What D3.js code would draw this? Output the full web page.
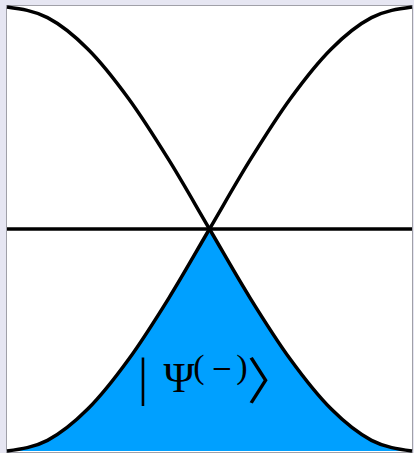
<!DOCTYPE html>
<html>
<head>
<meta charset="utf-8">
<script src="https://cdn.jsdelivr.net/npm/d3@7"></script>
<style>
  html, body { margin: 0; padding: 0; background: #e6e6f2; }
  svg { display: block; }
</style>
</head>
<body>
<svg id="chart" width="414" height="453"></svg>
<script>
// Sample positions along the horizontal axis (fraction of the span)
const positions = [0, 0.1, 0.2, 0.3, 0.4, 0.5, 0.6, 0.7, 0.8, 0.9, 1];
// Falling curve (starts at the top, ends at the bottom)
const fallingCurve = [1, 0.976, 0.905, 0.794, 0.655, 0.5, 0.345, 0.206, 0.095, 0.024, 0];
// Rising curve (starts at the bottom, ends at the top)
const risingCurve = [0, 0.024, 0.095, 0.206, 0.345, 0.5, 0.655, 0.794, 0.905, 0.976, 1];
// Level of the horizontal reference line
const midLevel = [0.5];

const svg = d3.select("#chart");
const plotLeft = 7, plotRight = 412, plotTop = 7, plotBottom = 451;

const x = d3.scaleLinear().domain([0, 1]).range([plotLeft, plotRight]);
const y = d3.scaleLinear().domain([0, 1]).range([plotBottom, plotTop]);

// plot area
svg.append("rect")
  .attr("x", plotLeft - 0.5).attr("y", plotTop - 1.5)
  .attr("width", plotRight - plotLeft + 1).attr("height", plotBottom - plotTop + 3)
  .attr("fill", "#ffffff").attr("stroke", "#a0a0a8").attr("stroke-width", 1);

const pts = a => positions.map((p, i) => [p, a[i]]);

const line = d3.line().x(d => x(d[0])).y(d => y(d[1])).curve(d3.curveMonotoneX);
const area = d3.area().x(d => x(d[0])).y0(y(0)).y1(d => y(d[1])).curve(d3.curveMonotoneX);

// region under both curves: area under one clipped by area under the other
const defs = svg.append("defs");
defs.append("clipPath").attr("id", "under-rising")
  .append("path").attr("d", area(pts(risingCurve)));

svg.append("path")
  .attr("d", area(pts(fallingCurve)))
  .attr("clip-path", "url(#under-rising)")
  .attr("fill", "#00a0ff");

// horizontal reference line
svg.selectAll("line.mid").data(midLevel).enter().append("line")
  .attr("class", "mid")
  .attr("x1", x(0)).attr("x2", x(1))
  .attr("y1", d => y(d)).attr("y2", d => y(d))
  .attr("stroke", "#000").attr("stroke-width", 3.5);

[fallingCurve, risingCurve].forEach(c => {
  svg.append("path")
    .attr("d", line(pts(c)))
    .attr("fill", "none")
    .attr("stroke", "#000")
    .attr("stroke-width", 3.5)
    .attr("stroke-linejoin", "round");
});

// state label |Ψ(−)⟩
const serif = "'Liberation Serif', 'DejaVu Serif', serif";
const lbl = svg.append("g").attr("fill", "#000").attr("text-anchor", "middle");
const glyph = (t, cx, base, size, fam) =>
  lbl.append("text").attr("x", cx).attr("y", base)
    .attr("font-family", fam || serif).attr("font-size", size).text(t);

glyph("|", 143, 395, 52);
glyph("Ψ", 179, 392, 42);
glyph("(", 199, 378, 34);
glyph("−", 222, 377, 26, "'DejaVu Serif', serif");
glyph(")", 242, 378, 34);
glyph("〉", 272, 399, 50, "'Noto Sans CJK SC', serif");
</script>
</body>
</html>
